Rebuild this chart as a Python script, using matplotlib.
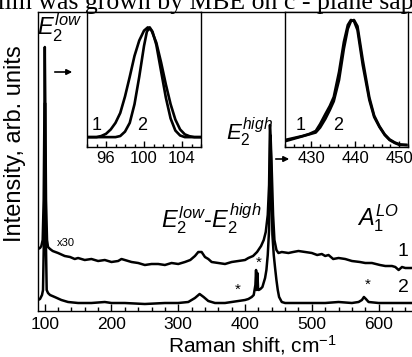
import matplotlib
matplotlib.use("Agg")
import matplotlib.pyplot as plt
from matplotlib.ticker import MultipleLocator

plt.rcParams['font.family'] = ['Liberation Sans', 'DejaVu Sans']
plt.rcParams['mathtext.fontset'] = 'custom'
plt.rcParams['mathtext.rm'] = 'Liberation Sans'
plt.rcParams['mathtext.it'] = 'Liberation Sans:italic'

# spectrum 1 (x30), intensity in arb. units
s1_x = [90, 93, 95, 97, 98.5, 99.5, 100.2, 101, 102, 103.5, 105, 108, 112, 120, 130,
        138, 145, 150, 160, 170, 180, 190, 200, 210, 215, 220, 230, 240, 250, 260,
        270, 280, 290, 300, 310, 318, 325, 330, 335, 340, 345, 350, 360, 370, 380,
        390, 400, 405, 412, 418, 424, 428, 431, 434, 436, 437.3, 438.5, 440, 442,
        444, 447, 450, 455, 465, 472, 480, 490, 500, 508, 515, 520, 525, 532, 540,
        550, 560, 572, 580, 590, 602, 610, 620, 625, 630, 635, 640, 650]
s1_y = [62, 63, 65, 71, 111, 191, 264, 201, 111, 71, 64, 62, 60, 58, 55,
        54, 52, 53, 51, 52, 50, 51, 49, 50, 52, 51, 49, 48, 46, 47,
        47, 46, 48, 47, 49, 51, 55, 59, 59, 54, 52, 49, 48, 47, 49,
        50, 51, 53, 55, 59, 65, 71, 79, 96, 126, 186, 171, 141, 96,
        71, 61, 58, 59, 58, 59, 60, 59, 58, 56, 57, 55, 56, 52, 53,
        52, 50, 49, 48, 48, 46, 45, 45, 44, 41, 44, 43, 43]

# spectrum 2
s2_x = [90, 93, 96, 97.5, 99.3, 100, 100.5, 101, 101.8, 103, 105, 108, 115, 125,
        135, 150, 170, 190, 200, 220, 250, 280, 300, 315, 325, 332, 338, 345, 355,
        370, 380, 390, 400, 405, 410, 413, 415.5, 416.5, 417.5, 418.5, 419.5, 420.5,
        423, 426, 430, 432, 434, 436, 437, 437.8, 439, 440, 441, 443, 445, 447, 449,
        451, 455, 460, 480, 500, 520, 540, 560, 570, 575, 578, 581, 585, 600, 620, 650]
s2_y = [11, 12, 16, 21, 91, 161, 208, 151, 71, 21, 18, 16, 14, 11,
        9, 8, 8, 9, 8, 8, 7, 8, 8, 9, 13, 17, 14, 10, 8,
        8, 9, 10, 11, 12, 14, 16, 26, 41, 21, 38, 23, 21,
        22, 24, 33, 41, 56, 81, 121, 176, 151, 111, 76, 56, 43, 31, 21,
        14, 9, 8, 8, 8, 8, 9, 8, 9, 11, 14, 12, 9, 8, 8, 8]

# inset: E2 low (normalized)
in1_x1 = [94, 95, 95.5, 96, 96.5, 97, 97.5, 98, 98.5, 99, 99.5, 100, 100.4, 100.8,
          101.3, 101.8, 102.3, 102.8, 103.3, 103.8, 104.3, 104.8, 105.3, 106]
in1_y1 = [0, 0, 0.01, 0.03, 0.07, 0.13, 0.22, 0.37, 0.55, 0.74, 0.88, 0.97, 1.0, 0.97,
          0.86, 0.68, 0.48, 0.30, 0.16, 0.07, 0.025, 0.008, 0, 0]
in1_x2 = [94, 96, 97, 97.5, 98, 98.5, 99, 99.5, 100, 100.3, 100.6, 100.9, 101.3,
          101.8, 102.3, 102.8, 103.3, 103.8, 104.3, 106]
in1_y2 = [0, 0, 0, 0.01, 0.05, 0.13, 0.30, 0.55, 0.83, 0.96, 1.0, 0.96, 0.84,
          0.60, 0.36, 0.17, 0.06, 0.015, 0, 0]

# inset: E2 high (normalized)
in2_x = [424, 426, 428, 429.5, 431, 432, 433.2, 434.2, 435.1, 436.3, 437.4, 438.3,
         439, 439.7, 440.5, 441.7, 443.2, 444.3, 445.5, 446.7, 447.8, 449, 450.1, 451.6]
in2_y1 = [0.04, 0.056, 0.072, 0.088, 0.112, 0.168, 0.248, 0.312, 0.384, 0.584, 0.824,
          0.96, 1.0, 0.992, 0.92, 0.64, 0.36, 0.224, 0.144, 0.08, 0.04, 0.016, 0, 0]
in2_y2 = [0.03, 0.05, 0.07, 0.085, 0.1, 0.14, 0.21, 0.28, 0.35, 0.52, 0.77,
          0.93, 0.99, 1.0, 0.95, 0.68, 0.38, 0.235, 0.15, 0.085, 0.045, 0.02, 0.005, 0]

W, H = 412, 357


def px(x, y):
    return x / W, 1 - y / H


fig = plt.figure(figsize=(W / 100, H / 100), dpi=100)

ax = fig.add_axes([38 / W, 1 - 311 / H, 374 / W, 299 / H])
ax.plot(s1_x, s1_y, color='black', lw=1.8)
ax.plot(s2_x, s2_y, color='black', lw=1.8)
ax.set_xlim(90, 650)
ax.set_ylim(0, 299)
ax.set_yticks([])
ax.spines['right'].set_visible(False)
for s in ax.spines.values():
    s.set_linewidth(1.0)
ax.xaxis.set_major_locator(MultipleLocator(100))
ax.xaxis.set_minor_locator(MultipleLocator(20))
ax.tick_params(axis='x', which='both', direction='in', top=False, labelsize=12.5, pad=4)
ax.tick_params(axis='x', which='major', length=5, width=1)
ax.tick_params(axis='x', which='minor', length=3, width=1)

ax1 = fig.add_axes([87 / W, 1 - 147 / H, 114 / W, 135 / H])
ax1.plot(in1_x1, in1_y1, color='black', lw=1.9)
ax1.plot(in1_x2, in1_y2, color='black', lw=1.9)
ax1.set_xlim(94, 106)
ax1.set_ylim(-0.09, 1.14)
ax1.xaxis.set_major_locator(MultipleLocator(4))
ax1.xaxis.set_minor_locator(MultipleLocator(1))

ax2 = fig.add_axes([285 / W, 1 - 147 / H, 123 / W, 135 / H])
ax2.plot(in2_x, in2_y1, color='black', lw=1.9)
ax2.plot(in2_x, in2_y2, color='black', lw=1.9)
ax2.set_xlim(424, 452)
ax2.set_ylim(-0.016, 1.064)
ax2.xaxis.set_major_locator(MultipleLocator(10))
ax2.xaxis.set_minor_locator(MultipleLocator(2))

for a in (ax1, ax2):
    a.set_yticks([])
    for s in a.spines.values():
        s.set_linewidth(1.0)
    a.tick_params(axis='x', which='both', direction='in', labelsize=12, pad=3)
    a.tick_params(axis='x', which='major', length=4, width=1)
    a.tick_params(axis='x', which='minor', length=2, width=1)

# axis labels
fig.text(*px(15, 144), 'Intensity, arb. units', rotation=90, ha='center', va='center', fontsize=17)
fig.text(*px(252, 352), 'Raman shift, cm$^{-1}$', ha='center', va='baseline', fontsize=15)

# cropped caption line at the top of the scan
fig.text(*px(-11, 9), 'film was grown by MBE on c - plane sapphire', ha='left', va='baseline',
         fontsize=18.5, family='Liberation Serif')

# peak labels
fig.text(*px(37, 36), '$E_2^{low}$', ha='left', va='baseline', fontsize=17)
fig.text(*px(226, 140), '$E_2^{high}$', ha='left', va='baseline', fontsize=16)
fig.text(*px(161, 227), '$E_2^{low}$-$E_2^{high}$', ha='left', va='baseline', fontsize=17)
fig.text(*px(357, 225), '$A_1^{LO}$', ha='left', va='baseline', fontsize=17)
fig.text(*px(57, 243), 'x30', ha='left', va='center', fontsize=8)

fig.text(*px(403, 252), '1', ha='center', va='center', fontsize=14)
fig.text(*px(403, 288), '2', ha='center', va='center', fontsize=14)
for sx, sy in [(238, 290), (259, 263), (368, 285)]:
    fig.text(*px(sx, sy), '*', ha='center', va='center', fontsize=11)

for lx, ly, t in [(97, 125, '1'), (142, 125, '2'), (301, 125, '1'), (338, 125, '2')]:
    fig.text(*px(lx, ly), t, ha='center', va='center', fontsize=13)

# arrows pointing to the insets
for x0, x1, y in [(52, 75, 72), (273, 292, 159)]:
    fig.add_artist(matplotlib.patches.FancyArrowPatch(
        px(x0, y), px(x1, y), transform=fig.transFigure,
        arrowstyle='-|>', mutation_scale=8, color='black', lw=1.2))

fig.savefig('out.png', dpi=100)
